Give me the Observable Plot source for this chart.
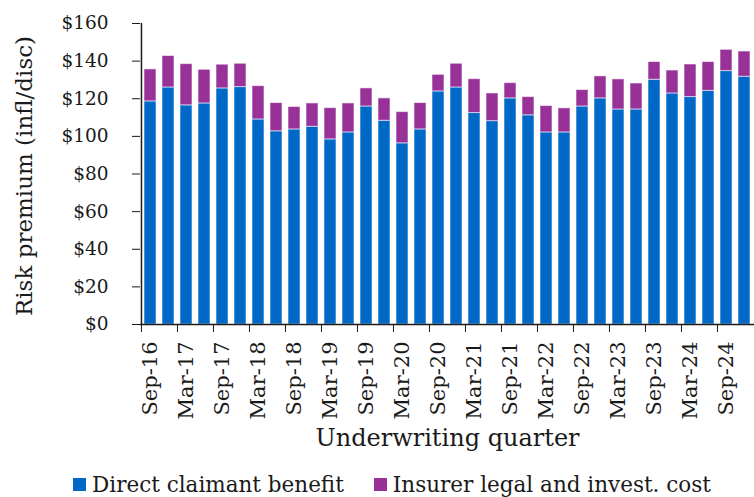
<!DOCTYPE html>
<html><head><meta charset="utf-8">
<script src="https://cdn.jsdelivr.net/npm/d3@7"></script>
<script src="https://cdn.jsdelivr.net/npm/@observablehq/plot@0.6"></script>
<style>
body{margin:0;background:#fff;font-family:"DejaVu Serif",serif;color:#1a1a1a;}
#chart svg{display:block;}
#legend{display:flex;justify-content:center;align-items:center;height:28px;margin-top:8px;font-size:21.5px;padding-left:30px;}
.item{display:flex;align-items:center;margin:0 15px;}
.sw{width:13px;height:13px;margin-right:6px;display:inline-block;}
</style></head><body><div id="chart"></div><div id="legend"></div>
<script>
const quarters = ["Sep-16","Dec-16","Mar-17","Jun-17","Sep-17","Dec-17","Mar-18","Jun-18","Sep-18","Dec-18","Mar-19","Jun-19","Sep-19","Dec-19","Mar-20","Jun-20","Sep-20","Dec-20","Mar-21","Jun-21","Sep-21","Dec-21","Mar-22","Jun-22","Sep-22","Dec-22","Mar-23","Jun-23","Sep-23","Dec-23","Mar-24","Jun-24","Sep-24","Dec-24"];
const direct = [118.6,126.0,116.5,117.5,125.5,126.2,109.0,102.7,103.7,105.1,98.4,102.1,115.9,108.3,96.3,103.7,123.9,126.0,112.4,108.1,120.2,111.2,102.1,102.1,115.9,120.2,114.3,114.3,130.1,122.8,120.9,124.2,134.7,131.7];
const legal = [17.0,16.7,21.9,17.9,12.6,12.4,17.7,15.0,11.9,12.4,16.6,15.4,9.6,11.9,16.6,14.0,8.8,12.6,18.0,14.7,8.1,9.7,14.0,12.8,8.7,11.7,16.0,13.8,9.4,12.2,17.3,15.3,11.3,13.4];
const seriesNames = ["Direct claimant benefit","Insurer legal and invest. cost"];
const seriesColors = ["#0069c7","#983298"];
const yTicks = [0,20,40,60,80,100,120,140,160];
const yLabel = "Risk premium (infl/disc)";
const xLabel = "Underwriting quarter";

const rows = [];
quarters.forEach((q,i)=>{
  rows.push({q, series: seriesNames[0], v: direct[i]});
  rows.push({q, series: seriesNames[1], v: legal[i]});
});
const labelled = quarters.filter((d,i)=>i%2===0);
const W = 754, H = 462, ML = 140, MR = 0, MT = 23, MB = 138;
const step = (W-ML-MR)/quarters.length;

const plot = Plot.plot({
  width: W, height: H, marginLeft: ML, marginRight: MR, marginTop: MT, marginBottom: MB,
  style: {fontFamily: '"DejaVu Serif", serif', fontSize: "20px", color: "#1a1a1a", background: "#fff", overflow: "visible"},
  x: {domain: quarters, paddingInner: 0.33, paddingOuter: 0.165, label: null},
  y: {domain: [0,160], label: null},
  color: {domain: seriesNames, range: seriesColors},
  marks: [
    Plot.barY(rows, {x: "q", y: "v", fill: "series", stroke: "#fff", strokeOpacity: 0.55, strokeWidth: 1}),
    Plot.axisY({ticks: yTicks, tickSize: 8, tickPadding: 24, tickFormat: d => "$" + d, fontSize: 18.5, label: null}),
    Plot.ruleX([quarters[0]], {y1: 0, y2: 160, dx: -step/2, stroke: "#1a1a1a", strokeWidth: 1.5}),
    Plot.ruleY([0], {stroke: "#1a1a1a", strokeWidth: 1.5}),
    Plot.axisX({ticks: labelled, tickSize: 8, tickFormat: () => "", dx: -step/2, label: null}),
    Plot.axisX({ticks: labelled, tickSize: 0, tickPadding: 17, tickRotate: -90, fontSize: 21, label: null}),
    Plot.text([yLabel], {frameAnchor: "left", textAnchor: "middle", rotate: -90, dx: -116, dy: 2, fontSize: 23, fill: "#1a1a1a"}),
    Plot.text([xLabel], {frameAnchor: "bottom", dy: 121, fontSize: 24, fill: "#1a1a1a"})
  ]
});
document.getElementById("chart").appendChild(plot);

const leg = document.getElementById("legend");
seriesNames.forEach((n,i)=>{
  const it = document.createElement("span"); it.className = "item";
  const sw = document.createElement("span"); sw.className = "sw"; sw.style.background = seriesColors[i];
  const t = document.createElement("span"); t.textContent = n;
  it.appendChild(sw); it.appendChild(t); leg.appendChild(it);
});
</script></body></html>
